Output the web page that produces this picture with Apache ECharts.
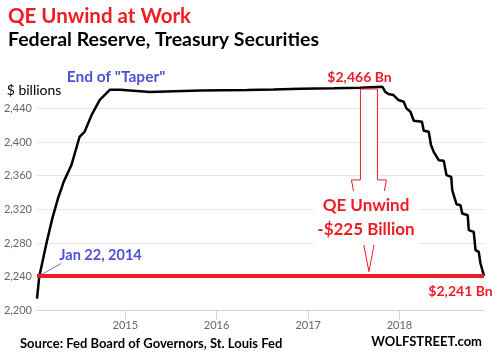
<!DOCTYPE html>
<html><head><meta charset="utf-8">
<script src="https://cdn.jsdelivr.net/npm/echarts@6/dist/echarts.min.js"></script>
<style>html,body{margin:0;padding:0;background:#fff}#c{width:499px;height:355px}</style>
</head><body><div id="c"></div>
<script>
// ---- data ----
const dates = [
  '2014-01-13','2014-01-22','2014-02-20','2014-03-15','2014-04-07','2014-04-30','2014-05-31',
  '2014-07-02','2014-07-22','2014-08-19','2014-09-21','2014-10-31',
  '2014-12-10','2015-03-15','2015-04-08','2015-10-27','2016-05-01','2016-08-15','2016-12-01',
  '2017-04-14','2017-07-28','2017-10-25',
  '2017-11-05','2017-11-18','2017-12-08','2017-12-28','2018-01-18','2018-01-29','2018-02-14',
  '2018-02-27','2018-04-01','2018-04-08','2018-04-28','2018-05-07','2018-05-18','2018-06-07',
  '2018-06-27','2018-07-08','2018-07-27','2018-07-31','2018-08-06','2018-08-17','2018-09-02',
  '2018-09-09','2018-10-01','2018-10-05','2018-10-25','2018-11-01','2018-11-14','2018-11-21',
  '2018-12-05'
];
const values = [
  2214,2240,2280,2309,2333,2353,2373,
  2406,2412,2432,2450,2462,
  2462,2460,2459.5,2461.3,2461.8,2462.5,2463.3,
  2463.8,2464.5,2465.7,
  2459.7,2457,2455.8,2449.9,2447.8,2440,2436,
  2425.3,2424,2413.4,2412.2,2396.4,2388.4,2378.5,
  2377.7,2360.7,2358.7,2342.9,2336.9,2326.2,2325,
  2315.1,2313.1,2295.3,2293.3,2271.5,2269.5,2255.7,
  2241
];
const yTicks = [2200, 2240, 2280, 2320, 2360, 2400, 2440, 2480];
const yearTicks = ['2015-01-01', '2016-01-01', '2017-01-01', '2018-01-01'];
const peakLevel = 2466;
const currentLevel = 2241;
const sameLevelDate = '2014-01-22';
const arrowDate = '2017-09-01';
const arrowHeadLevel = 2355;
const arrowTipLevel = 2246;

(function () {
function ts(s) { const q = s.split('-').map(Number); return Date.UTC(q[0], q[1] - 1, q[2]); }
function fmt(v) { return String(v).replace(/\B(?=(\d{3})+(?!\d))/g, ','); }
const RED = '#ee1c25', BLUE = '#5050d8', FONT = 'Lato, "Open Sans", sans-serif';

const seriesData = dates.map((d, i) => [ts(d), values[i]]);
const chart = echarts.init(document.getElementById('c'), null, { renderer: 'canvas' });

chart.setOption({
  animation: false,
  backgroundColor: '#fff',
  grid: { left: 37, right: 15, top: 74.7, bottom: 44.6, containLabel: false },
  xAxis: {
    type: 'value',
    min: ts(dates[0]), max: ts(dates[dates.length - 1]),
    axisLine: { show: true, lineStyle: { color: '#ccd6eb', width: 1 } },
    axisTick: { show: true, length: 9, lineStyle: { color: '#ccd6eb' }, customValues: yearTicks.map(ts) },
    axisLabel: {
      customValues: yearTicks.map(ts),
      formatter: v => String(new Date(v).getUTCFullYear()),
      color: '#666', fontSize: 11, fontFamily: FONT, margin: 10
    },
    splitLine: { show: false }
  },
  yAxis: {
    type: 'value', min: yTicks[0], max: yTicks[yTicks.length - 1], interval: 40,
    axisLine: { show: false }, axisTick: { show: false },
    axisLabel: { formatter: v => fmt(v), color: '#666', fontSize: 11, fontFamily: FONT, margin: 5, showMaxLabel: false },
    splitLine: { show: true, showMinLine: false, showMaxLine: false, lineStyle: { color: '#e6e6e6', width: 1 } }
  },
  series: [{
    type: 'line', data: seriesData, showSymbol: false, symbol: 'none',
    lineStyle: { color: '#000', width: 2.5 },
    markLine: {
      silent: true, symbol: 'none', label: { show: false },
      lineStyle: { color: RED, width: 4, type: 'solid' },
      data: [{ yAxis: currentLevel }]
    }
  }]
});

const px = (d, v) => chart.convertToPixel({ gridIndex: 0 }, [ts(d), v]);
const aTop = px(arrowDate, peakLevel), aBase = px(arrowDate, arrowHeadLevel), aTip = px(arrowDate, arrowTipLevel);
const cx = aTop[0], sw = 8.5, hw = 17.5, topY = aTop[1] + 2.5;
const arrowPts = [[cx - sw, topY], [cx + sw, topY], [cx + sw, aBase[1]], [cx + hw, aBase[1]], [cx, aTip[1]],
                  [cx - hw, aBase[1]], [cx - sw, aBase[1]]];
const jan = px(sameLevelDate, currentLevel);

function txt(x, y, text, font, fill, align, extra) {
  return { type: 'text', x: x, y: y, z: 20,
    style: Object.assign({ text: text, font: font, fill: fill, align: align || 'left', verticalAlign: 'middle' }, extra || {}) };
}

chart.setOption({
  graphic: [
    txt(8, 16, 'QE Unwind at Work', 'bold 20.5px ' + FONT, RED),
    txt(8, 40, 'Federal Reserve, Treasury Securities', 'bold 19.5px ' + FONT, '#000'),
    txt(66.7, 77, 'End of "Taper"', 'bold 15.5px ' + FONT, BLUE),
    txt(6.7, 90, '$ billions', '14px ' + FONT, '#000'),
    txt(359.5, 77, '$' + fmt(peakLevel) + ' Bn', 'bold 14px ' + FONT, RED, 'center'),
    txt(460.5, 291, '$' + fmt(currentLevel) + ' Bn', 'bold 14px ' + FONT, RED, 'center'),
    txt(59.3, 255, 'Jan 22, 2014', 'bold 14.5px ' + FONT, BLUE),
    { type: 'line', z: 15, shape: { x1: jan[0], y1: jan[1], x2: jan[0] + 22, y2: jan[1] - 12.5 }, style: { stroke: BLUE, lineWidth: 0.8 } },
    { type: 'polygon', z: 15, shape: { points: arrowPts }, style: { fill: '#fff', stroke: RED, lineWidth: 1 } },
    txt(366, 218, 'QE Unwind\n-$' + fmt(peakLevel - currentLevel) + ' Billion', 'bold 17px ' + FONT, RED, 'center',
        { backgroundColor: '#fff', padding: [3, 4, 3, 4], lineHeight: 24 }),
    txt(20, 344, 'Source: Fed Board of Governors, St. Louis Fed', 'bold 13px ' + FONT, '#000'),
    txt(482, 342, 'WOLFSTREET.com', 'bold 13px ' + FONT, '#000', 'right')
  ]
});
})();
</script>
</body></html>
